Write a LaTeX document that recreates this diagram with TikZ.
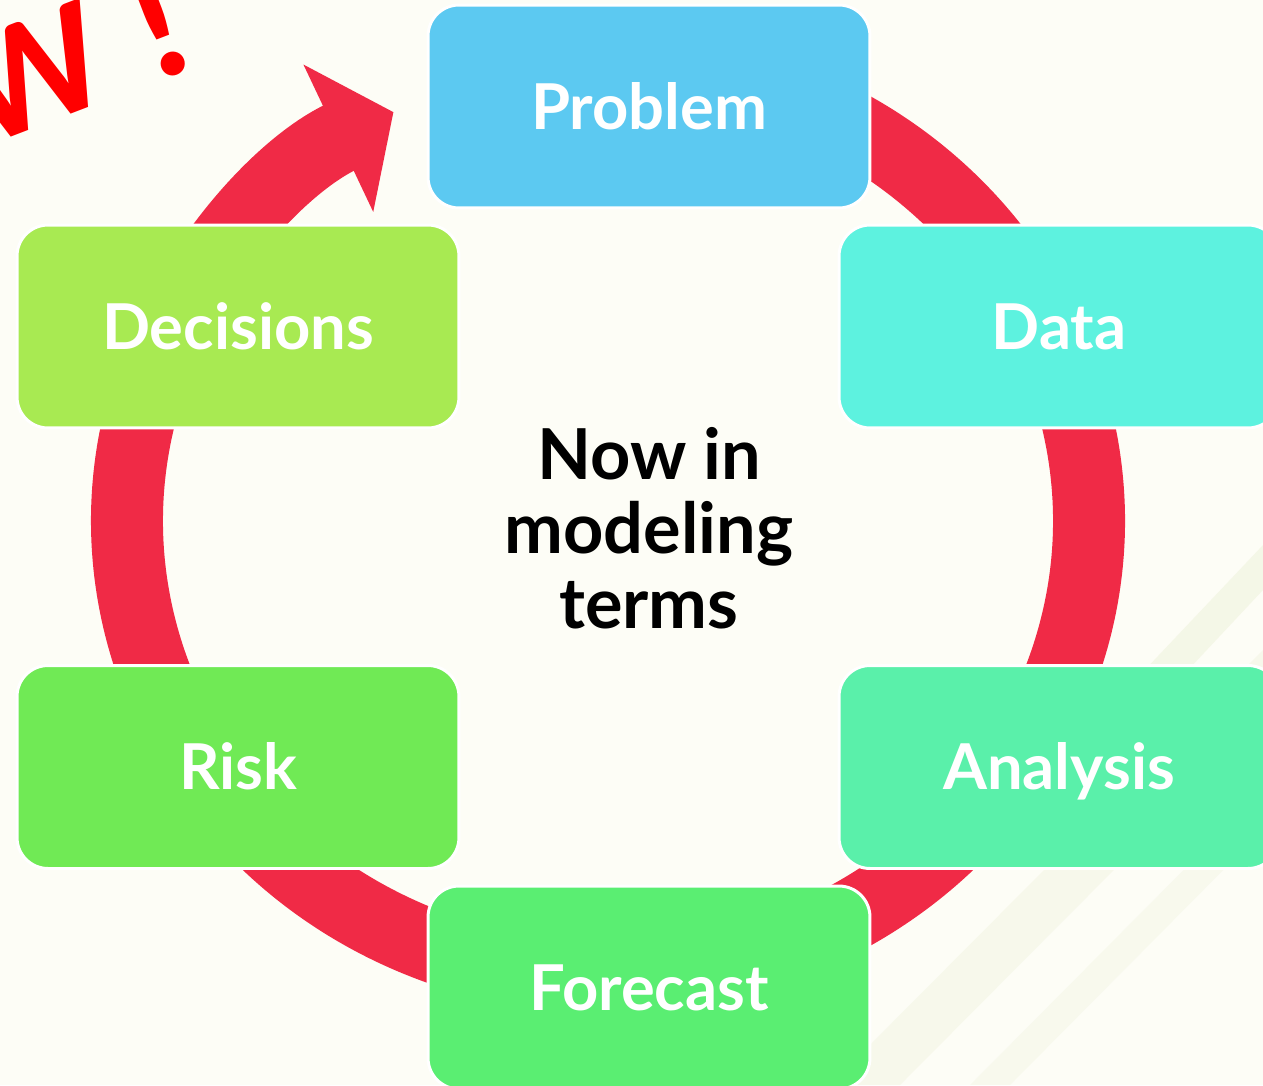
\documentclass[tikz,border=0pt]{standalone}
\usepackage{fontspec}
\setmainfont{Lato}
\newfontfamily\shoutfont{Carlito}
\usepackage{xcolor}
\usetikzlibrary{arrows.meta}
\definecolor{paper}{RGB}{253,253,246}
\definecolor{stripe}{RGB}{230,236,205}
\definecolor{ringred}{RGB}{240,42,70}
\definecolor{shoutred}{RGB}{255,0,0}
\definecolor{problemcol}{RGB}{92,201,241}
\definecolor{datacol}{RGB}{93,242,223}
\definecolor{analysiscol}{RGB}{90,240,170}
\definecolor{forecastcol}{RGB}{90,238,114}
\definecolor{riskcol}{RGB}{112,234,85}
\definecolor{decisioncol}{RGB}{168,234,82}

\begin{document}
\begin{tikzpicture}[x=0.02cm,y=-0.02cm]
\tikzstyle{every node}+=[inner sep=0pt]
\tikzstyle{stage}=[draw=white, line width=1.7pt, rounded corners=0.62cm, minimum width=8.84cm, minimum height=4.06cm, text=white, font=\fontsize{36}{43}\selectfont\bfseries, text height=25.8pt, text depth=0pt]
\useasboundingbox (0,0) rectangle (1263,1085);
\clip (0,0) rectangle (1263,1085);
\fill [paper] (0,0) rectangle (1263,1085);
\fill [stripe, opacity=0.35] (1263,545) -- (1263,590) -- (1010,860) -- (965,860) -- cycle;
\fill [stripe, opacity=0.25] (1263,650) -- (1263,720) -- (900,1085) -- (830,1085) -- cycle;
\fill [stripe, opacity=0.2] (1263,790) -- (1263,830) -- (1010,1085) -- (970,1085) -- cycle;
\draw [ringred, line width=1.44cm, -{Triangle[width=3.2cm,length=1.22cm]}] (608,521) ++(70:9.62cm and 9.14cm) arc [start angle=70, end angle=-243.5, x radius=9.62cm, y radius=9.14cm];
\draw (202,64) node (shout) [anchor=base east, rotate=21, text=shoutred, font=\shoutfont\fontsize{92}{98}\selectfont\bfseries] {NOW !};
\draw (649,106.5) node (problem) [stage, fill=problemcol] {Problem};
\draw (1059,326.5) node (data) [stage, fill=datacol, minimum width=8.8cm] {Data};
\draw (1059,767) node (analysis) [stage, fill=analysiscol, minimum width=8.8cm] {Analysis};
\draw (649,987.5) node (forecast) [stage, fill=forecastcol] {Forecast};
\draw (238,767) node (risk) [stage, fill=riskcol] {Risk};
\draw (238,326.5) node (decisions) [stage, fill=decisioncol] {Decisions};
\draw (649,528) node (terms) [align=center, font=\fontsize{40}{42.5}\selectfont\bfseries] {Now in\\modeling\\terms};
\end{tikzpicture}
\end{document}
